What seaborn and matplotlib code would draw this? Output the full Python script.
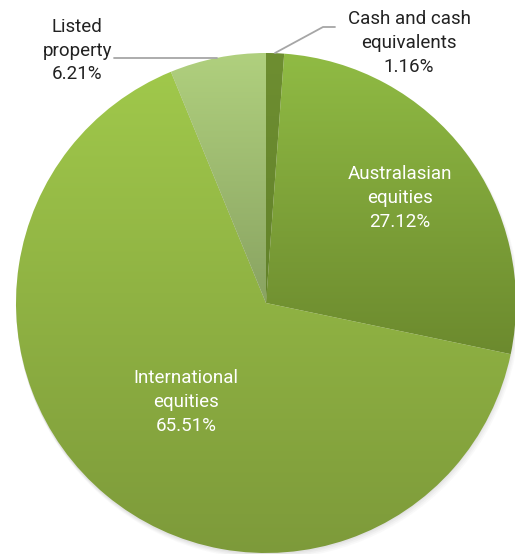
import numpy as np
import matplotlib
matplotlib.use("Agg")
import matplotlib.pyplot as plt
import matplotlib.colors as mcolors
import seaborn as sns

# data, clockwise from 12 o'clock
labels = ["Cash and cash\nequivalents", "Australasian\nequities",
          "International\nequities", "Listed\nproperty"]
shares = [1.16, 27.12, 65.51, 6.21]

# top / bottom colour of each slice's vertical gradient
top_colors = ["#6e8e31", "#90bb44", "#a0c84b", "#b0d07e"]
bottom_colors = ["#62822a", "#6c8a2e", "#7d9a3a", "#89a361"]

sns.set_theme(style="white")
plt.rcParams["font.family"] = ["Roboto", "DejaVu Sans"]

fig = plt.figure(figsize=(5.15, 5.54), dpi=100)
ax = fig.add_axes([0, 0, 1, 1])
ax.set_aspect("equal")
ax.axis("off")

# soft shadow under the pie
for i, a in enumerate([0.05, 0.05, 0.04, 0.03]):
    ax.add_patch(plt.Circle((0.003 * i, -0.006 - 0.004 * i), 1.0 + 0.002 * i,
                            color="#555555", alpha=a, lw=0, zorder=0))

wedges, _ = ax.pie(shares, startangle=90, counterclock=False, radius=1.0,
                   wedgeprops=dict(linewidth=0), normalize=True)

for w, c0, c1 in zip(wedges, top_colors, bottom_colors):
    w.set_facecolor("none")
    verts = w.get_path().vertices
    x0, x1 = verts[:, 0].min(), verts[:, 0].max()
    y0, y1 = verts[:, 1].min(), verts[:, 1].max()
    cmap = mcolors.LinearSegmentedColormap.from_list("g", [c1, c0])
    grad = np.linspace(0, 1, 256).reshape(-1, 1)
    im = ax.imshow(grad, cmap=cmap, extent=(x0, x1, y0, y1), origin="lower",
                   aspect="auto", zorder=2, interpolation="bilinear")
    im.set_clip_path(w)
ax.set_xlim(-266 / 250, (515 - 266) / 250)
ax.set_ylim((303 - 554) / 250, 303 / 250)

fs = 13.5
ls = 1.4
# inside labels
ax.text(0.536, 0.42, f"{labels[1]}\n{shares[1]:.2f}%", color="white",
        ha="center", va="center", fontsize=fs, linespacing=ls, zorder=5)
ax.text(-0.32, -0.396, f"{labels[2]}\n{shares[2]:.2f}%", color="white",
        ha="center", va="center", fontsize=fs, linespacing=ls, zorder=5)

# outside labels with leader lines
ax.text(0.572, 1.04, f"{labels[0]}\n{shares[0]:.2f}%", color="#222222",
        ha="center", va="center", fontsize=fs, linespacing=ls, zorder=5)
ax.plot([0.036, 0.228, 0.276], [1.0, 1.104, 1.104], color="#a6a6a6", lw=1.3, zorder=4)

ax.text(-0.756, 1.01, f"{labels[3]}\n{shares[3]:.2f}%", color="#222222",
        ha="center", va="center", fontsize=fs, linespacing=ls, zorder=5)
ax.plot([-0.608, -0.196], [0.98, 0.98], color="#a6a6a6", lw=1.3, zorder=4)

fig.savefig("out.png", dpi=100)
